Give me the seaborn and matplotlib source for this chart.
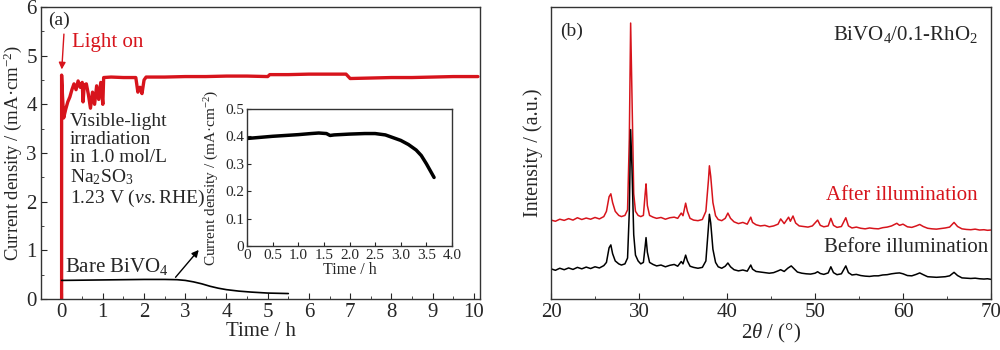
import numpy as np
import matplotlib
matplotlib.use("Agg")
import matplotlib.pyplot as plt
import seaborn as sns

sns.set_style("ticks")
plt.rcParams['font.family'] = ['Liberation Serif', 'DejaVu Serif']
plt.rcParams['mathtext.fontset'] = 'custom'
plt.rcParams['mathtext.rm'] = 'Liberation Serif'
plt.rcParams['mathtext.it'] = 'Liberation Serif:italic'
plt.rcParams['xtick.direction'] = 'in'
plt.rcParams['ytick.direction'] = 'in'

RED = "#d7141c"

# ---- (a) photocurrent of BiVO4/0.1-RhO2 (red) ----
t_rho2 = [0.0, 0.0, 0.02, 0.05, 0.1, 0.15, 0.2, 0.25, 0.3, 0.35, 0.4, 0.45, 0.5, 0.52, 0.55,
          0.6, 0.65, 0.7, 0.75, 0.8, 0.85, 0.9, 0.95, 1.0, 1.02, 1.2, 1.5, 1.8, 1.85, 1.9,
          1.95, 2.0, 2.05, 2.5, 3.0, 3.5, 4.0, 4.5, 5.0, 5.05, 5.5, 6.0, 6.5, 6.9, 7.0,
          7.5, 8.0, 8.5, 9.0, 9.5, 10.1]
j_rho2 = [0.0, 4.6, 4.2, 3.72, 3.9, 4.05, 4.15, 4.3, 4.42, 4.3, 4.48, 4.35, 4.45, 4.05, 4.4,
          4.42, 4.2, 3.92, 4.25, 4.0, 4.38, 4.1, 4.45, 4.0, 4.55, 4.56, 4.55, 4.55, 4.25, 4.35,
          4.22, 4.5, 4.56, 4.56, 4.57, 4.57, 4.58, 4.58, 4.57, 4.61, 4.61, 4.62, 4.62, 4.62, 4.53,
          4.54, 4.55, 4.55, 4.56, 4.57, 4.57]

# bare BiVO4 (black)
t_bare = [0.0, 0.5, 1.0, 1.5, 2.0, 2.5, 2.8, 3.0, 3.2, 3.4, 3.6, 3.8, 4.0, 4.3, 4.6, 5.0, 5.5]
j_bare = [0.38, 0.385, 0.39, 0.395, 0.40, 0.40, 0.395, 0.38, 0.35, 0.31, 0.26, 0.22, 0.19, 0.16, 0.14, 0.12, 0.11]

# inset: bare BiVO4 zoomed
t_inset = [0.0, 0.25, 0.5, 0.75, 1.0, 1.25, 1.4, 1.55, 1.62, 1.7, 2.0, 2.3, 2.5, 2.7, 2.85, 3.0,
           3.15, 3.3, 3.4, 3.5, 3.65]
j_inset = [0.392, 0.396, 0.40, 0.403, 0.406, 0.41, 0.412, 0.41, 0.403, 0.405, 0.408, 0.41, 0.41,
           0.405, 0.395, 0.385, 0.37, 0.35, 0.33, 0.30, 0.25]

# ---- (b) XRD patterns ----
tt_before = [20.0, 20.5, 21.0, 21.5, 22.0, 22.5, 23.0, 23.5, 24.0, 24.5, 25.0, 25.5, 26.0, 26.3,
             26.6, 26.8, 27.0, 27.3, 27.7, 28.0, 28.4, 28.7, 28.9, 29.05, 29.2, 29.4, 29.6, 29.9,
             30.2, 30.5, 30.7, 30.8, 30.95, 31.2, 31.6, 32.0, 32.5, 33.0, 33.5, 34.0, 34.4, 34.8,
             35.0, 35.3, 35.5, 35.8, 36.2, 36.7, 37.2, 37.6, 37.9, 38.0, 38.15, 38.4, 38.7, 39.0,
             39.4, 39.8, 40.1, 40.4, 40.8, 41.3, 41.8, 42.3, 42.7, 42.9, 43.3, 43.8, 44.3, 44.8,
             45.3, 45.8, 46.1, 46.5, 46.9, 47.3, 47.6, 48.0, 48.5, 49.0, 49.5, 50.0, 50.3, 50.6,
             51.0, 51.5, 51.8, 52.1, 52.5, 53.0, 53.5, 53.8, 54.2, 54.7, 55.2, 55.7, 56.2, 56.7,
             57.2, 57.7, 58.2, 58.7, 59.2, 59.6, 60.0, 60.5, 61.0, 61.5, 61.9, 62.3, 62.8, 63.3,
             63.8, 64.3, 64.8, 65.3, 65.8, 66.2, 66.7, 67.2, 67.7, 68.2, 68.7, 69.2, 69.6, 70.0]
i_before = [10.3, 9.8, 10.5, 10.0, 10.6, 10.1, 10.8, 10.3, 10.9, 10.4, 11.0, 10.6, 11.4, 12.5,
            17.5, 18.5, 15.5, 13.0, 12.0, 11.6, 12.0, 14.0, 30.0, 58.0, 45.0, 22.0, 15.0, 13.0,
            12.0, 12.5, 18.0, 21.0, 16.0, 12.5, 11.8, 11.3, 11.6, 11.0, 11.5, 11.8, 11.2, 12.8,
            12.0, 15.0, 13.0, 11.2, 10.8, 10.5, 10.8, 13.0, 25.0, 29.0, 26.0, 17.0, 12.5, 11.0,
            10.5, 11.2, 12.3, 11.0, 10.0, 9.6, 9.9, 9.5, 11.6, 10.2, 9.4, 9.2, 9.0, 8.8,
            9.0, 9.6, 10.0, 9.4, 10.5, 11.3, 10.4, 9.2, 8.8, 8.6, 8.5, 8.8, 9.3, 8.7,
            8.4, 8.9, 11.0, 9.0, 8.3, 8.6, 11.3, 9.0, 8.2, 8.4, 8.0, 7.8, 7.7, 7.9,
            7.9, 8.2, 8.3, 8.6, 8.8, 8.9, 8.6, 8.0, 7.9, 8.4, 8.9, 8.3, 7.6, 7.5,
            7.4, 7.5, 7.6, 7.9, 9.1, 8.0, 7.2, 7.1, 7.0, 7.1, 6.9, 6.8, 6.9, 6.7]

tt_after = [20.0, 20.5, 21.0, 21.5, 22.0, 22.5, 23.0, 23.5, 24.0, 24.5, 25.0, 25.5, 26.0, 26.3,
            26.6, 26.8, 27.0, 27.3, 27.7, 28.0, 28.4, 28.7, 28.9, 29.05, 29.2, 29.4, 29.6, 29.9,
            30.2, 30.5, 30.7, 30.8, 30.95, 31.2, 31.6, 32.0, 32.5, 33.0, 33.5, 34.0, 34.4, 34.8,
            35.0, 35.3, 35.5, 35.8, 36.2, 36.7, 37.2, 37.6, 37.9, 38.0, 38.15, 38.4, 38.7, 39.0,
            39.4, 39.8, 40.1, 40.4, 40.8, 41.3, 41.8, 42.3, 42.7, 42.9, 43.3, 43.8, 44.3, 44.8,
            45.3, 45.8, 46.1, 46.5, 47.0, 47.2, 47.5, 47.8, 48.2, 48.7, 49.2, 49.7, 50.3, 50.6,
            51.0, 51.5, 51.8, 52.1, 52.5, 53.0, 53.5, 53.8, 54.2, 54.7, 55.2, 55.7, 56.2, 56.7,
            57.2, 57.7, 58.2, 58.7, 59.3, 59.6, 60.0, 60.5, 61.0, 61.5, 61.9, 62.3, 62.8, 63.3,
            63.8, 64.3, 64.8, 65.3, 65.8, 66.2, 66.7, 67.2, 67.7, 68.2, 68.7, 69.2, 69.6, 70.0]
i_after = [27.0, 26.6, 27.3, 26.9, 27.5, 27.0, 27.8, 27.2, 27.7, 27.3, 27.9, 27.4, 28.2, 30.0,
           35.0, 36.0, 33.0, 30.0, 28.6, 28.2, 28.6, 30.5, 55.0, 94.5, 70.0, 36.0, 30.0, 28.6,
           28.2, 28.6, 36.0, 39.4, 32.0, 28.6, 28.0, 27.6, 27.9, 27.3, 27.8, 28.0, 27.6, 29.4,
           28.5, 32.8, 30.0, 27.6, 27.0, 26.8, 27.2, 30.0, 41.0, 45.6, 42.0, 33.0, 28.5, 27.2,
           26.8, 27.6, 29.4, 27.6, 26.4, 25.8, 26.2, 25.6, 28.0, 26.2, 25.4, 25.0, 25.2, 24.7,
           25.0, 25.6, 27.4, 25.8, 28.0, 26.6, 28.4, 26.0, 25.0, 24.8, 24.6, 25.0, 27.0, 25.2,
           24.7, 25.0, 27.6, 25.2, 24.5, 24.8, 27.8, 25.0, 24.3, 24.6, 24.2, 24.0, 24.3, 24.1,
           24.0, 24.4, 24.6, 25.0, 25.9, 25.2, 25.6, 24.7, 24.5, 25.0, 25.5, 24.8, 24.2, 24.0,
           23.9, 24.1, 24.3, 24.6, 26.2, 24.8, 24.0, 23.8, 23.7, 23.9, 23.6, 23.7, 23.5, 23.6]

fig = plt.figure(figsize=(10, 3.5), dpi=100)
ax_a = fig.add_axes([0.041, 0.146, 0.439, 0.834])
ax_b = fig.add_axes([0.551, 0.146, 0.440, 0.834])
ax_in = fig.add_axes([0.247, 0.297, 0.205, 0.392])

# ---------- (a) ----------
sns.lineplot(x=t_rho2, y=j_rho2, sort=False, estimator=None, color=RED, linewidth=2.4, ax=ax_a)
sns.lineplot(x=t_bare, y=j_bare, sort=False, estimator=None, color="black", linewidth=1.2, ax=ax_a)
ax_a.set_xlim(-0.48, 10.15)
ax_a.set_ylim(0, 6)
ax_a.set_xticks(range(0, 11))
ax_a.set_xticks(np.arange(-0.5, 10.5, 0.5), minor=True)
ax_a.set_yticks(range(0, 7))
ax_a.set_yticks(np.arange(0, 6.5, 0.5), minor=True)
ax_a.tick_params(labelsize=15, length=4, pad=3)
ax_a.tick_params(which='minor', length=2)
ax_a.set_xlabel("Time / h", fontsize=15, labelpad=0)
ax_a.set_ylabel("Current density / (mA·cm$^{-2}$)", fontsize=13.5, labelpad=2)
ax_a.text(-0.32, 5.72, "(a)", fontsize=14, va='center')
ax_a.annotate("", xy=(0.0, 4.66), xytext=(0.06, 5.5),
              arrowprops=dict(arrowstyle="-|>", color=RED, lw=1.0, mutation_scale=10))
ax_a.text(0.24, 5.28, "Light on", color=RED, fontsize=15, va='center')
ax_a.text(0.2, 3.82,
          "Visible-light\nirradiation\nin 1.0 mol/L\nNa$_2$SO$_3$\n1.23 V ($\\it{vs.}$RHE)",
          fontsize=14, va='top', linespacing=1.08)
ax_a.text(0.08, 0.66, "Bare BiVO$_4$", fontsize=15, va='center')
ax_a.annotate("", xy=(3.37, 1.05), xytext=(2.72, 0.4),
              arrowprops=dict(arrowstyle="-|>", color="black", lw=1.0, mutation_scale=10))

# ---------- inset ----------
sns.lineplot(x=t_inset, y=j_inset, sort=False, estimator=None, color="black", linewidth=2.5, ax=ax_in)
ax_in.set_xlim(0, 4)
ax_in.set_ylim(0, 0.5)
ax_in.set_xticks(np.arange(0, 4.5, 0.5))
ax_in.set_xticklabels(["0", "0.5", "1.0", "1.5", "2.0", "2.5", "3.0", "3.5", "4.0"])
ax_in.set_yticks(np.arange(0, 0.6, 0.1))
ax_in.set_yticklabels(["0", "0.1", "0.2", "0.3", "0.4", "0.5"])
ax_in.tick_params(labelsize=11, length=3, pad=2)
ax_in.set_xlabel("Time / h", fontsize=11.5, labelpad=0)
ax_in.set_ylabel("Current density / (mA·cm$^{-2}$)", fontsize=11)
ax_in.yaxis.set_label_coords(-0.125, 0.5)

# ---------- (b) ----------
sns.lineplot(x=tt_after, y=i_after, sort=False, estimator=None, color=RED, linewidth=1.1, ax=ax_b)
sns.lineplot(x=tt_before, y=i_before, sort=False, estimator=None, color="black", linewidth=1.1, ax=ax_b)
ax_b.set_xlim(20, 70)
ax_b.set_ylim(0, 100)
ax_b.set_xticks(range(20, 71, 10))
ax_b.set_xticks(range(20, 71, 5), minor=True)
ax_b.set_yticks([])
ax_b.tick_params(labelsize=15, length=4, pad=3)
ax_b.tick_params(which='minor', length=2)
ax_b.set_xlabel("2$\\it{\\theta}$ / (°)", fontsize=15, labelpad=0)
ax_b.set_ylabel("Intensity / (a.u.)", fontsize=14.5, labelpad=6)
ax_b.text(21.0, 91.5, "(b)", fontsize=14, va='center')
ax_b.text(68.5, 90.5, "BiVO$_4$/0.1-RhO$_2$", fontsize=15, va='center', ha='right')
ax_b.text(68.5, 35.5, "After illumination", color=RED, fontsize=15, va='center', ha='right')
ax_b.text(69.7, 17.5, "Before illumination", fontsize=15, va='center', ha='right')

for ax in (ax_a, ax_b, ax_in):
    for s in ax.spines.values():
        s.set_linewidth(1.0)
        s.set_color("#333333")

fig.savefig("out.png", dpi=100)
